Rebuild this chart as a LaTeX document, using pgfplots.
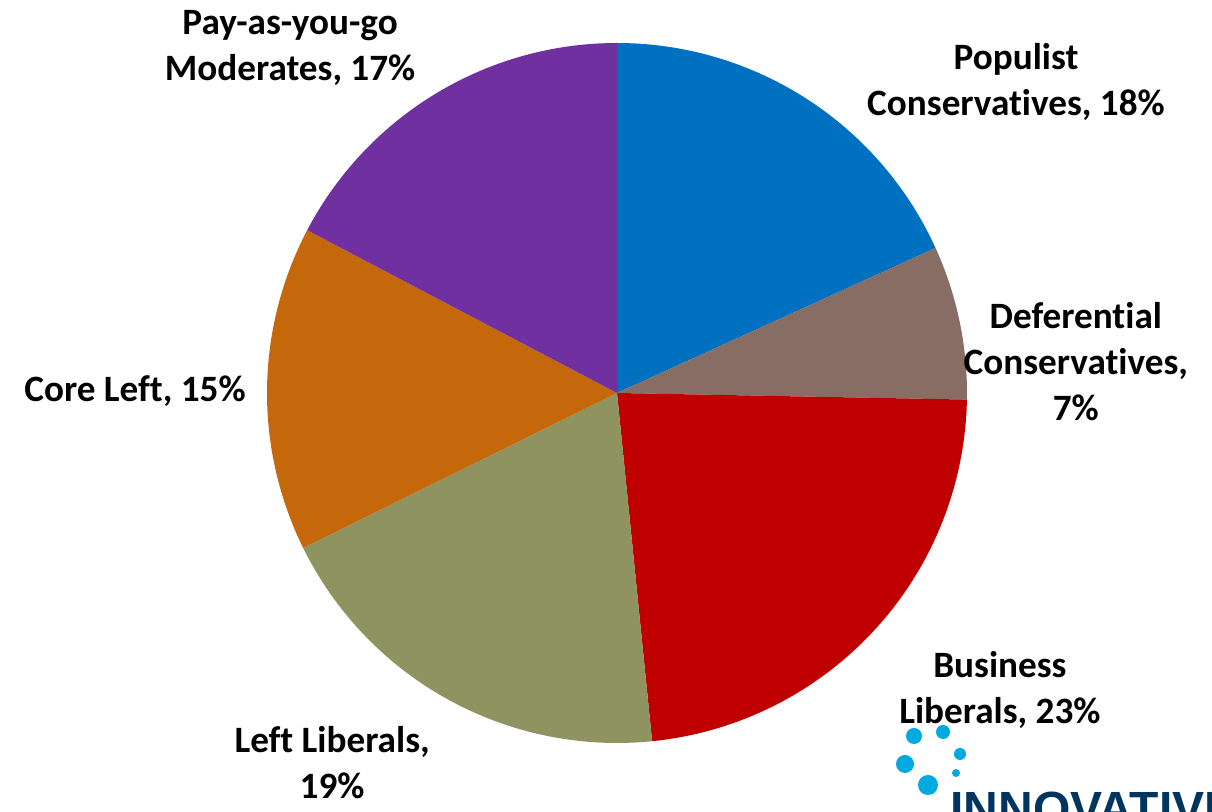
\documentclass[border=0pt]{standalone}
\usepackage{pgfplots}
\pgfplotsset{compat=1.18}
\usepackage{fontspec}
\setmainfont{Carlito}[Ligatures=NoCommon]
\newfontfamily\logofont{Liberation Sans}
\definecolor{cA}{HTML}{0070C0}
\definecolor{cB}{HTML}{886D64}
\definecolor{cC}{HTML}{C00000}
\definecolor{cD}{HTML}{8E9360}
\definecolor{cE}{HTML}{C5680C}
\definecolor{cF}{HTML}{7030A0}
\definecolor{logoblue}{HTML}{00A9E0}
\definecolor{logonavy}{HTML}{00355F}
\tikzset{lab/.style={font=\fontsize{18.6}{23}\selectfont\bfseries, align=center, inner sep=0pt}}
% segment shares (percent), clockwise from 12 o'clock
\def\vA{18.2} % Populist Conservatives
\def\vB{7.1}  % Deferential Conservatives
\def\vC{23.1} % Business Liberals
\def\vD{19.3} % Left Liberals
\def\vE{15.0} % Core Left
\def\vF{17.3} % Pay-as-you-go Moderates
\pgfmathsetmacro{\aA}{90}
\pgfmathsetmacro{\aB}{\aA-3.6*\vA}
\pgfmathsetmacro{\aC}{\aB-3.6*\vB}
\pgfmathsetmacro{\aD}{\aC-3.6*\vC}
\pgfmathsetmacro{\aE}{\aD-3.6*\vD}
\pgfmathsetmacro{\aF}{\aE-3.6*\vE}
\pgfmathsetmacro{\aG}{\aF-3.6*\vF}
\begin{document}
\begin{tikzpicture}
\useasboundingbox (0,0) rectangle (606pt,406pt);
\clip (0,0) rectangle (606pt,406pt);
\begin{axis}[
  hide axis, scale only axis, width=350pt, height=350pt,
  xmin=-1, xmax=1, ymin=-1, ymax=1,
  at={(308.5pt,209.5pt)}, anchor=center, clip=false
]
\addplot[fill=cA, draw=none, domain=\aB:\aA, samples=80, variable=\t] ({cos(\t)},{sin(\t)}) -- (axis cs:0,0) -- cycle;
\addplot[fill=cB, draw=none, domain=\aC:\aB, samples=40, variable=\t] ({cos(\t)},{sin(\t)}) -- (axis cs:0,0) -- cycle;
\addplot[fill=cC, draw=none, domain=\aD:\aC, samples=90, variable=\t] ({cos(\t)},{sin(\t)}) -- (axis cs:0,0) -- cycle;
\addplot[fill=cD, draw=none, domain=\aE:\aD, samples=80, variable=\t] ({cos(\t)},{sin(\t)}) -- (axis cs:0,0) -- cycle;
\addplot[fill=cE, draw=none, domain=\aF:\aE, samples=70, variable=\t] ({cos(\t)},{sin(\t)}) -- (axis cs:0,0) -- cycle;
\addplot[fill=cF, draw=none, domain=\aG:\aF, samples=80, variable=\t] ({cos(\t)},{sin(\t)}) -- (axis cs:0,0) -- cycle;
\node[lab] at (axis cs:1.14,0.889) {Populist\\Conservatives, 18\%};
\node[lab] at (axis cs:1.311,0.089) {Deferential\\Conservatives,\\7\%};
\node[lab] at (axis cs:1.094,-0.849) {Business\\Liberals, 23\%};
\node[lab] at (axis cs:-0.814,-1.057) {Left Liberals,\\19\%};
\node[lab] at (axis cs:-1.377,0.006) {Core Left, 15\%};
\node[lab] at (axis cs:-0.934,0.986) {Pay-as-you-go\\Moderates, 17\%};
\end{axis}
% logo (decoration)
\fill[logoblue] (457pt,38pt) circle (4pt);
\fill[logoblue] (471.5pt,40pt) circle (3.5pt);
\fill[logoblue] (480pt,29pt) circle (3pt);
\fill[logoblue] (452.5pt,24pt) circle (4.5pt);
\fill[logoblue] (478pt,19.5pt) circle (2pt);
\fill[logoblue] (464pt,13.5pt) circle (5pt);
\node[anchor=base west, inner sep=0pt, text=logonavy, font=\logofont\bfseries\fontsize{24}{24}\selectfont] at (475pt,-7pt) {INNOVATIVE};
\end{tikzpicture}
\end{document}
